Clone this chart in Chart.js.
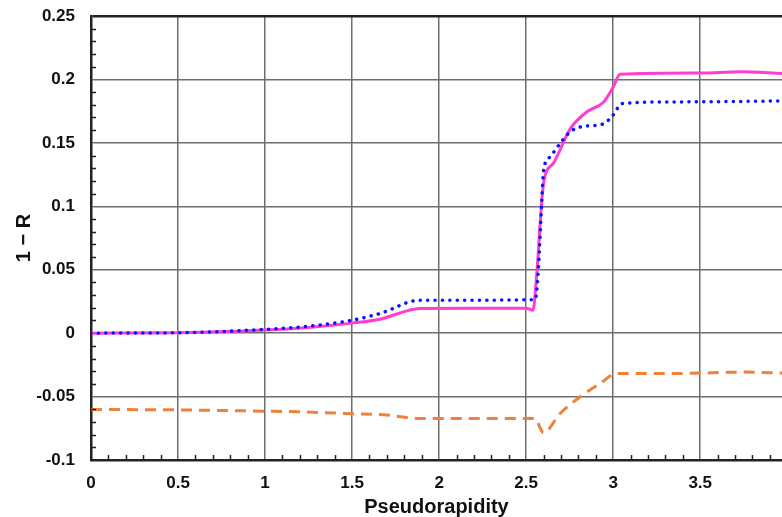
<!DOCTYPE html>
<html>
<head>
<meta charset="utf-8">
<script src="https://cdn.jsdelivr.net/npm/chart.js@4/dist/chart.umd.min.js"></script>
<style>
  html, body { margin: 0; padding: 0; background: #fff; }
  #wrap { width: 782px; height: 517px; position: relative; }
</style>
</head>
<body>
<div id="wrap"><canvas id="chart"></canvas></div>
<script>
/* data */
var etaPink = [0, 0.5, 1.0, 1.25, 1.5, 1.66, 1.89, 2.2, 2.50, 2.54, 2.56, 2.60, 2.657, 2.753, 2.849, 2.944, 3.0, 3.04, 3.5, 3.73, 3.97];
var pinkVals = [0, 0.0003, 0.0024, 0.0045, 0.0079, 0.011, 0.0195, 0.0197, 0.0197, 0.018, 0.045, 0.118, 0.134, 0.161, 0.1745, 0.182, 0.194, 0.204, 0.205, 0.206, 0.2047];

var etaBlue = [0, 0.5, 1.0, 1.25, 1.5, 1.66, 1.89, 2.2, 2.552, 2.571, 2.59, 2.60, 2.638, 2.695, 2.753, 2.83, 2.944, 3.0, 3.05, 3.385, 3.97];
var blueVals = [0, 0.0003, 0.003, 0.0055, 0.0102, 0.0155, 0.026, 0.026, 0.0265, 0.052, 0.105, 0.128, 0.139, 0.1495, 0.1587, 0.163, 0.165, 0.172, 0.181, 0.1823, 0.183];

var etaOrange = [0, 0.5, 1.0, 1.2, 1.5, 1.7, 1.89, 2.2, 2.55, 2.6, 2.695, 2.81, 2.925, 3.02, 3.37, 3.75, 3.97];
var orangeVals = [-0.0602, -0.0605, -0.0615, -0.062, -0.0635, -0.0646, -0.0673, -0.0673, -0.0673, -0.0786, -0.0633, -0.0502, -0.0397, -0.0318, -0.0318, -0.0307, -0.0315];

var xMin = 0, xMax = 3.97, xStep = 0.5;
var yMin = -0.1, yMax = 0.25, yStep = 0.05;

function pts(xs, ys) {
    return xs.map(function (x, i) { return { x: x, y: ys[i] }; });
}

/* small inner tick marks, like the original plot */
var minorTicks = {
    id: 'minorTicks',
    afterDraw: function (chart) {
        var c = chart.ctx, a = chart.chartArea;
        var xs = chart.scales.x, ys = chart.scales.y;
        c.save();
        c.strokeStyle = '#222';
        c.lineWidth = 1.5;
        c.beginPath();
        for (var i = 1; i * 0.1 < xMax; i++) {
            if (i % 5 === 0) continue;
            var px = Math.round(xs.getPixelForValue(i * 0.1)) + 0.5;
            c.moveTo(px, a.bottom);
            c.lineTo(px, a.bottom - 5);
        }
        for (var j = 1; j < 35; j++) {
            if (j % 5 === 0) continue;
            var py = Math.round(ys.getPixelForValue(yMin + j * 0.01)) + 0.5;
            c.moveTo(a.left, py);
            c.lineTo(a.left + 5, py);
        }
        c.stroke();
        c.restore();
    }
};

const ctx = document.getElementById('chart').getContext('2d');
const chart = new Chart(ctx, {
    type: 'line',
    data: {
        datasets: [{
            data: pts(etaOrange, orangeVals),
            borderColor: '#f0813a',
            borderWidth: 3,
            borderDash: [11, 7],
            pointRadius: 0,
            cubicInterpolationMode: 'monotone'
        }, {
            data: pts(etaBlue, blueVals),
            borderColor: '#0a14ff',
            borderWidth: 3.5,
            borderDash: [0.1, 7.3],
            borderCapStyle: 'round',
            pointRadius: 0,
            cubicInterpolationMode: 'monotone'
        }, {
            data: pts(etaPink, pinkVals),
            borderColor: '#ff3dd0',
            borderWidth: 3,
            pointRadius: 0,
            cubicInterpolationMode: 'monotone'
        }]
    },
    options: {
        responsive: true,
        maintainAspectRatio: false,
        animation: false,
        layout: { padding: { top: 16, right: 0, left: 0, bottom: 0 } },
        plugins: {
            legend: { display: false },
            tooltip: { enabled: false }
        },
        scales: {
            x: {
                type: 'linear',
                min: xMin,
                max: xMax,
                afterBuildTicks: function (s) {
                    s.ticks = [];
                    for (var v = xMin; v <= xMax + 1e-9; v += xStep) s.ticks.push({ value: v });
                },
                afterFit: function (s) { s.height = 57; s.paddingLeft = 0; s.paddingRight = 0; },
                grid: { color: '#6e6e6e', lineWidth: 1.5, drawTicks: false },
                border: { color: '#222', width: 2.5 },
                ticks: {
                    color: '#111',
                    padding: 13,
                    maxRotation: 0,
                    font: { family: 'Liberation Sans', size: 17, weight: 'bold' },
                    callback: function (v) { return parseFloat(v.toFixed(2)); }
                },
                title: {
                    display: true,
                    text: 'Pseudorapidity',
                    color: '#111',
                    padding: { top: 0, bottom: -2 },
                    font: { family: 'Liberation Sans', size: 20, weight: 'bold' }
                }
            },
            y: {
                min: yMin,
                max: yMax,
                ticks: {
                    stepSize: yStep,
                    color: '#111',
                    padding: 16,
                    font: { family: 'Liberation Sans', size: 17, weight: 'bold' },
                    callback: function (v) { return parseFloat(v.toFixed(2)); }
                },
                afterFit: function (s) { s.width = 91; s.paddingTop = 0; s.paddingBottom = 0; },
                grid: {
                    drawTicks: false,
                    color: function (c) { return c.tick && Math.abs(c.tick.value - yMax) < 1e-9 ? '#222' : '#6e6e6e'; },
                    lineWidth: function (c) { return c.tick && Math.abs(c.tick.value - yMax) < 1e-9 ? 2.5 : 1.5; }
                },
                border: { color: '#222', width: 2.5 },
                title: {
                    display: true,
                    text: '1 \u2212 R',
                    color: '#111',
                    padding: { top: 12, bottom: 0 },
                    font: { family: 'Liberation Sans', size: 20, weight: 'bold' }
                }
            }
        }
    },
    plugins: [minorTicks]
});
</script>
</body>
</html>
